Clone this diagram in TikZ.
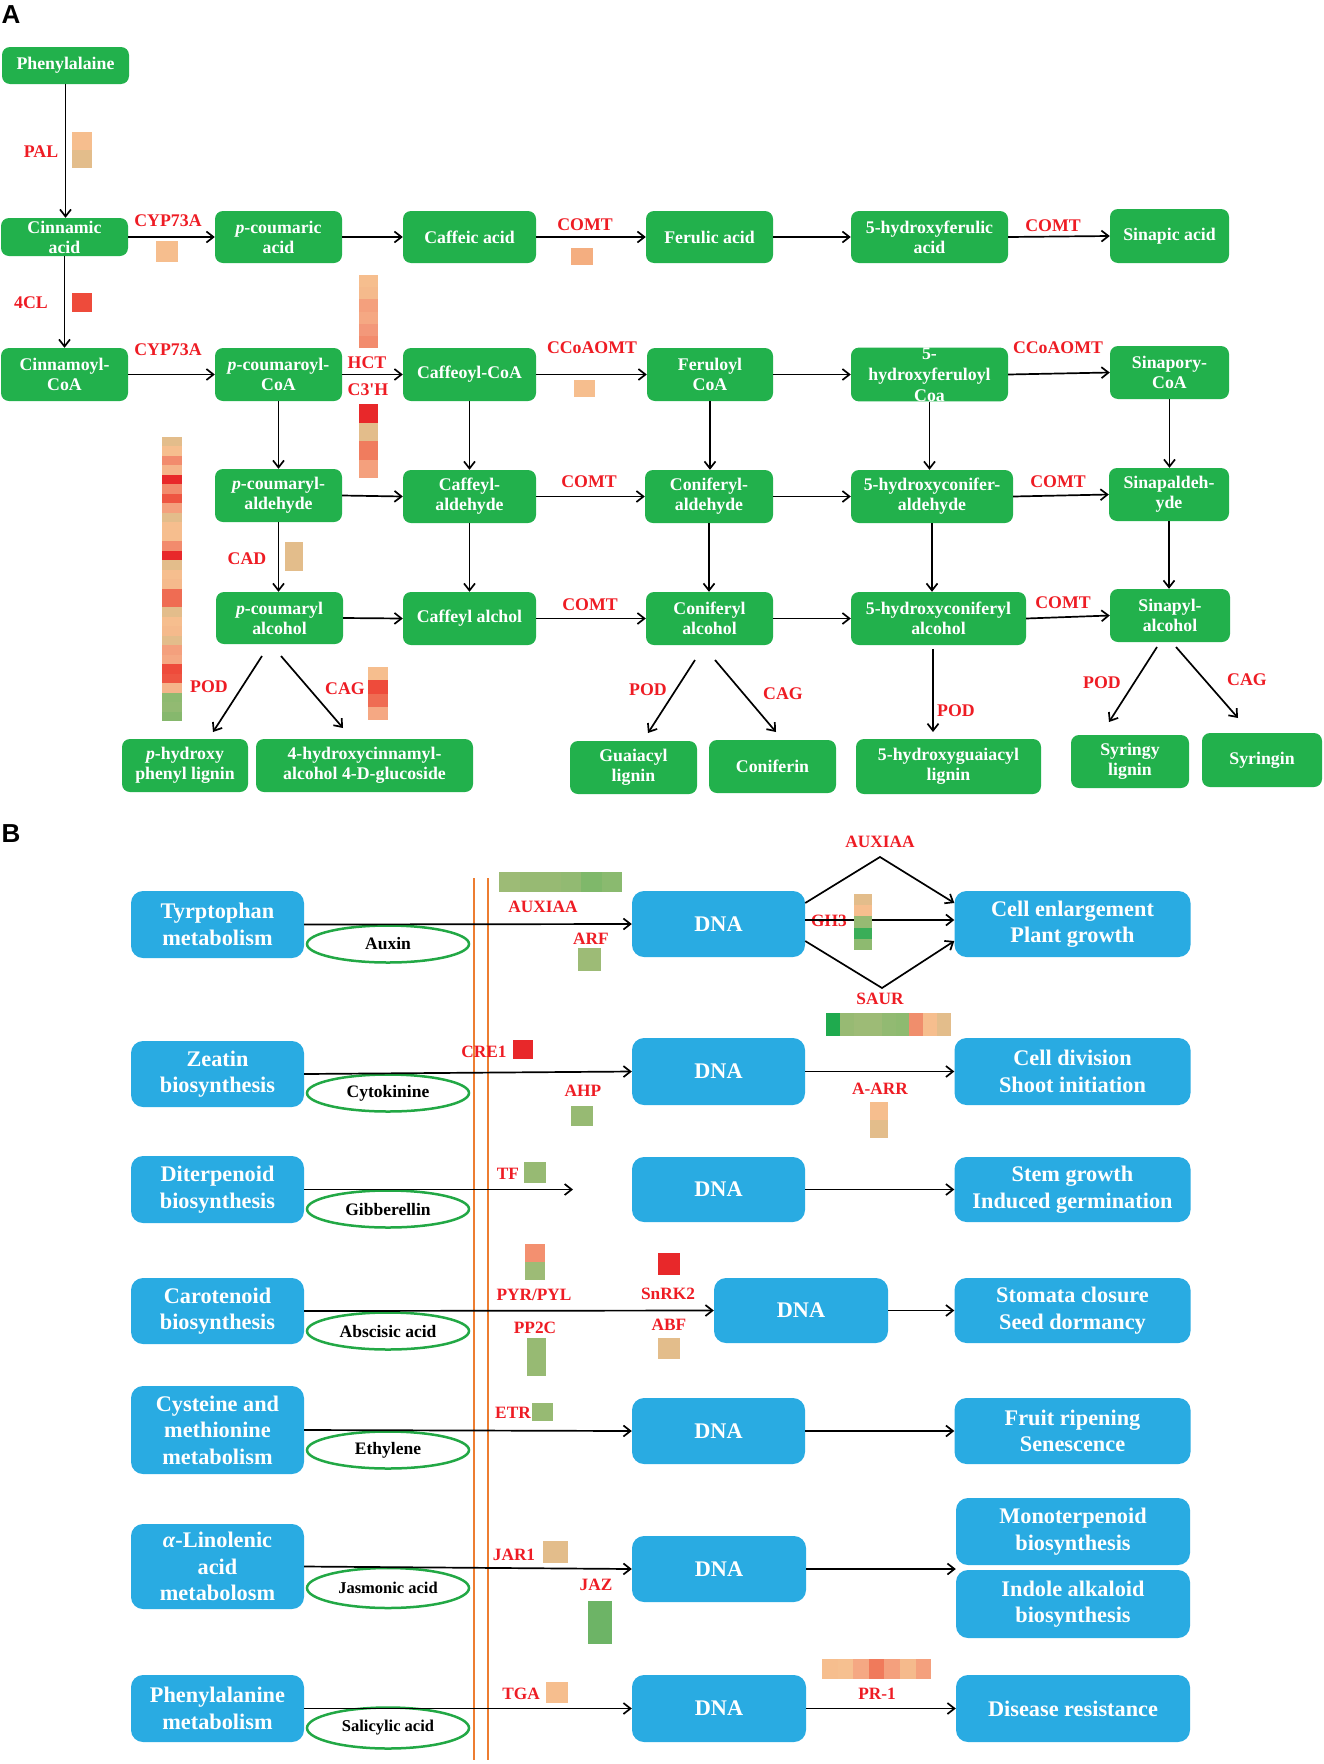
\documentclass[tikz,border=0pt]{standalone}
\usepackage{fontspec}
\setmainfont{Liberation Serif}
\newfontfamily\lsans{Liberation Sans}
\usetikzlibrary{arrows.meta,shapes.geometric}
\definecolor{boxgreen}{HTML}{22B14C}
\definecolor{boxblue}{HTML}{29ABE2}
\definecolor{labred}{HTML}{EE1C24}
\definecolor{lineorange}{HTML}{ED7D31}
\definecolor{ellgreen}{HTML}{22A845}
% heat colours
\definecolor{hLO}{HTML}{F6BE8E}
\definecolor{hLO3}{HTML}{F5BA8C}
\definecolor{hLO4}{HTML}{F6C090}
\definecolor{hLO2}{HTML}{F5B48A}
\definecolor{hTan}{HTML}{E3BD8B}
\definecolor{hSal}{HTML}{F28B6D}
\definecolor{hSal2}{HTML}{F08E6C}
\definecolor{hSal3}{HTML}{F3987A}
\definecolor{hSal4}{HTML}{F39070}
\definecolor{hSal5}{HTML}{F07A5B}
\definecolor{hRed}{HTML}{E8282A}
\definecolor{hRO}{HTML}{EE5542}
\definecolor{hRO2}{HTML}{EE4B3B}
\definecolor{hS2}{HTML}{F4A07D}
\definecolor{hS3}{HTML}{F5A883}
\definecolor{hS4}{HTML}{F4AE80}
\definecolor{hOR}{HTML}{EF6C53}
\definecolor{hOR2}{HTML}{F07C5E}
\definecolor{gr1}{HTML}{9DBB76}
\definecolor{gr2}{HTML}{97BA73}
\definecolor{gr3}{HTML}{92BA72}
\definecolor{gr4}{HTML}{7FB86A}
\definecolor{gr5}{HTML}{8ABA6F}
\definecolor{gr6}{HTML}{8EBA70}
\definecolor{gr7}{HTML}{3AAE58}
\definecolor{gr8}{HTML}{1FAA4E}
\definecolor{gr9}{HTML}{6DB466}
\definecolor{gr10}{HTML}{86B86D}
\newcommand\hv[5]{\foreach \cc [count=\ii from 0] in {#5}{\fill[\cc] (#1,{#2+\ii*#4}) rectangle ++(#3,#4);}}
\newcommand\hh[5]{\foreach \cc [count=\ii from 0] in {#5}{\fill[\cc] ({#1+\ii*#3},#2) rectangle ++(#3,#4);}}
\newcommand\gb[5]{\node[gbox,minimum width=#4pt,minimum height=#5pt] (#1) at (#2) {#3};}
\newcommand\bb[5]{\node[bbox,minimum width=#4pt,minimum height=#5pt] (#1) at (#2) {#3};}
\newcommand\lb[2]{\node[lab] at (#1) {#2};}
\newcommand\lbb[2]{\node[labb] at (#1) {#2};}
\tikzset{
 gbox/.style={rectangle, rounded corners=8pt, fill=boxgreen, text=white, align=center, inner sep=0pt, font=\fontsize{17.8}{20}\selectfont\bfseries},
 bbox/.style={rectangle, rounded corners=12pt, fill=boxblue, text=white, align=center, inner sep=0pt, font=\fontsize{22.3}{26.5}\selectfont\bfseries},
 ell/.style={ellipse, draw=ellgreen, line width=2.5pt, minimum width=162pt, minimum height=37pt, inner sep=0pt, font=\fontsize{17.5}{19}\selectfont\bfseries},
 lab/.style={text=labred, inner sep=0pt, font=\fontsize{17.8}{19}\selectfont\bfseries},
 labb/.style={text=labred, inner sep=0pt, font=\fontsize{17.3}{19}\selectfont\bfseries},
 arr/.style={draw=black, line width=1.7pt, -{Straight Barb[length=7pt,width=11pt]}},
 ln/.style={draw=black, line width=1.7pt},
 orl/.style={draw=lineorange, line width=1.8pt},
}
\begin{document}
\begin{tikzpicture}[x=1pt,y=-1pt]
\useasboundingbox (0,0) rectangle (1323,1764);
\node[font=\lsans\bfseries\fontsize{26}{28}\selectfont, inner sep=0] (lA) at (11,15) {A};
\node[font=\lsans\bfseries\fontsize{26}{28}\selectfont, inner sep=0] (lB) at (11,834) {B};
% ---------------- Part A nodes
\gb{phe}{65.5,65.5}{Phenylalaine}{127}{37}
\gb{cin}{64.5,237}{Cinnamic\\acid}{127}{38}
\gb{pca}{278.5,237}{\textit{p}-coumaric\\acid}{127}{52}
\gb{caf}{469.5,237}{Caffeic acid}{133}{52}
\gb{fer}{709.5,237}{Ferulic acid}{127}{52}
\gb{hfa}{929.5,237}{5-hydroxyferulic\\acid}{157}{52}
\gb{sin}{1169.5,236}{Sinapic acid}{119}{54}
\gb{ccoa}{64.5,374.5}{Cinnamoyl-\\CoA}{127}{53}
\gb{pccoa}{278.5,374.5}{\textit{p}-coumaroyl-\\CoA}{127}{53}
\gb{cfcoa}{469.5,374.5}{Caffeoyl-CoA}{133}{53}
\gb{frcoa}{710,374.5}{Feruloyl\\CoA}{126}{53}
\node[gbox,minimum width=157pt,minimum height=53pt,font=\fontsize{17.8}{21}\selectfont\bfseries] (hfcoa) at (929.5,374.5) {5-\\hydroxyferuloyl\\Coa};
\gb{sncoa}{1169.5,372.5}{Sinapory-\\CoA}{119}{53}
\gb{pcald}{278.5,495.5}{\textit{p}-coumaryl-\\aldehyde}{127}{53}
\gb{cfald}{469.5,496.5}{Caffeyl-\\aldehyde}{133}{53}
\gb{cnald}{709,496.5}{Coniferyl-\\aldehyde}{128}{53}
\gb{hcald}{932,496.5}{5-hydroxyconifer-\\aldehyde}{162}{53}
\gb{snald}{1169,494.5}{Sinapaldeh-\\yde}{120}{53}
\gb{pcalc}{279.5,618}{\textit{p}-coumaryl\\alcohol}{127}{52}
\gb{cfalc}{469.5,618.5}{Caffeyl alchol}{133}{53}
\gb{cnalc}{709.5,618.5}{Coniferyl\\alcohol}{127}{53}
\gb{hcalc}{938.5,618.5}{5-hydroxyconiferyl\\alcohol}{175}{53}
\gb{snalc}{1170,615.5}{Sinapyl-\\alcohol}{120}{53}
\gb{phl}{185,765.5}{\textit{p}-hydroxy\\phenyl lignin}{126}{53}
\gb{hcg}{364.5,765.5}{4-hydroxycinnamyl-\\alcohol 4-D-glucoside}{217}{53}
\gb{gul}{633.5,767.5}{Guaiacyl\\lignin}{127}{53}
\gb{cnf}{772.5,766.5}{Coniferin}{127}{53}
\gb{hgl}{948.5,766.5}{5-hydroxyguaiacyl\\lignin}{185}{55}
\gb{syl}{1130,761.5}{Syringy\\lignin}{118}{53}
\gb{syr}{1262,760}{Syringin}{120}{54}
% ---------------- Part A arrows
\draw[arr] (phe.south) -- (phe.south |- cin.north);
\draw[arr] (cin.south) -- (cin.south |- ccoa.north);
\draw[arr] (cin.east) -- (pca.west);
\draw[arr] (pca.east) -- (caf.west);
\draw[arr] (caf.east) -- (fer.west);
\draw[arr] (fer.east) -- (hfa.west);
\draw[arr] (hfa.east) -- (sin.west);
\draw[arr] (ccoa.east) -- (pccoa.west);
\draw[arr] (pccoa.east) -- (cfcoa.west);
\draw[arr] (cfcoa.east) -- (frcoa.west);
\draw[arr] (frcoa.east) -- (hfcoa.west);
\draw[arr] (hfcoa.east) -- (sncoa.west);
\draw[arr] (pccoa.south) -- (pccoa.south |- pcald.north);
\draw[arr] (cfcoa.south) -- (cfcoa.south |- cfald.north);
\draw[arr] (frcoa.south) -- (frcoa.south |- cnald.north);
\draw[arr] (hfcoa.south) -- (hfcoa.south |- hcald.north);
\draw[arr] (sncoa.south) -- (sncoa.south |- snald.north);
\draw[arr] (pcald.east) -- (cfald.west);
\draw[arr] (cfald.east) -- (cnald.west);
\draw[arr] (cnald.east) -- (hcald.west);
\draw[arr] (hcald.east) -- (snald.west);
\draw[arr] (pcald.south) -- (pcald.south |- pcalc.north);
\draw[arr] (cfald.south) -- (cfald.south |- cfalc.north);
\draw[arr] (cnald.south) -- (cnald.south |- cnalc.north);
\draw[arr] (hcald.south) -- (hcald.south |- hcalc.north);
\draw[arr] (snald.south) -- (snald.south |- snalc.north);
\draw[arr] (pcalc.east) -- (cfalc.west);
\draw[arr] (cfalc.east) -- (cnalc.west);
\draw[arr] (cnalc.east) -- (hcalc.west);
\draw[arr] (hcalc.east) -- (snalc.west);
\coordinate (d1a) at (262,656); \coordinate (d1b) at (213,732);
\coordinate (d2a) at (281,656); \coordinate (d2b) at (343,728);
\coordinate (d3a) at (695,660); \coordinate (d3b) at (648,733);
\coordinate (d4a) at (715,660); \coordinate (d4b) at (776,732);
\coordinate (d5a) at (933,649); \coordinate (d5b) at (933,732);
\coordinate (d6a) at (1157,647); \coordinate (d6b) at (1109,722);
\coordinate (d7a) at (1176,647); \coordinate (d7b) at (1238,718);
\draw[arr] (d1a) -- (d1b);
\draw[arr] (d2a) -- (d2b);
\draw[arr] (d3a) -- (d3b);
\draw[arr] (d4a) -- (d4b);
\draw[arr] (d5a) -- (d5b);
\draw[arr] (d6a) -- (d6b);
\draw[arr] (d7a) -- (d7b);
% ---------------- Part A labels
\lb{41,152}{PAL}
\lb{168,221}{CYP73A}
\lb{31,303}{4CL}
\lb{168,350}{CYP73A}
\lb{367,363}{HCT}
\lb{368,390}{C3\textquotesingle H}
\lb{585,225}{COMT}
\lb{1053,226}{COMT}
\lb{592,348}{CCoAOMT}
\lb{1058,348}{CCoAOMT}
\lb{247,559}{CAD}
\lb{589,482}{COMT}
\lb{1058,482}{COMT}
\lb{590,605}{COMT}
\lb{1063,603}{COMT}
\lb{209,687}{POD}
\lb{345,689}{CAG}
\lb{648,690}{POD}
\lb{783,694}{CAG}
\lb{956,711}{POD}
\lb{1102,683}{POD}
\lb{1247,680}{CAG}
% ---------------- Part B
\draw[orl] (474,878) -- (474,1760);
\draw[orl] (488,878) -- (488,1760);
\bb{tryp}{217.5,924.5}{Tyrptophan\\metabolism}{173}{67}
\bb{zea}{217.5,1074}{Zeatin\\biosynthesis}{173}{66}
\bb{dit}{217.5,1189.5}{Diterpenoid\\biosynthesis}{173}{67}
\bb{car}{217.5,1311}{Carotenoid\\biosynthesis}{173}{66}
\bb{cys}{217.5,1430}{Cysteine and\\methionine\\metabolism}{173}{88}
\bb{lin}{217.5,1566.5}{\textit{α}-Linolenic\\acid\\metabolosm}{173}{85}
\bb{phe2}{217.5,1708.5}{Phenylalanine\\metabolism}{173}{67}
\bb{dna1}{718.5,924}{DNA}{173}{66}
\bb{dna2}{718.5,1071.5}{DNA}{173}{67}
\bb{dna3}{718.5,1189.5}{DNA}{173}{65}
\bb{dna4}{801,1310.5}{DNA}{174}{65}
\bb{dna5}{718.5,1431}{DNA}{173}{66}
\bb{dna6}{719,1569}{DNA}{174}{66}
\bb{dna7}{719,1708.5}{DNA}{174}{67}
\bb{r1}{1072.5,924}{Cell enlargement\\Plant growth}{236}{66}
\bb{r2}{1072.5,1071.5}{Cell division\\Shoot initiation}{236}{67}
\bb{r3}{1072.5,1189.5}{Stem growth\\Induced germination}{236}{65}
\bb{r4}{1072.5,1310.5}{Stomata closure\\Seed dormancy}{236}{65}
\bb{r5}{1072.5,1431}{Fruit ripening\\Senescence}{236}{66}
\bb{r6a}{1073,1531.5}{Monoterpenoid\\biosynthesis}{234}{67}
\bb{r6b}{1073,1604}{Indole alkaloid\\biosynthesis}{234}{68}
\bb{r7}{1073,1708.5}{Disease resistance}{234}{67}
\node[ell] (aux) at (388,944) {Auxin};
\node[ell] (cyt) at (388,1093) {Cytokinine};
\node[ell] (gib) at (388,1209) {Gibberellin};
\node[ell] (aba) at (388,1331) {Abscisic acid};
\node[ell] (eth) at (388,1450) {Ethylene};
\node[ell,minimum height=40pt,font=\fontsize{16.5}{18}\selectfont\bfseries] (ja) at (388,1588) {Jasmonic acid};
\node[ell,minimum height=41pt,font=\fontsize{16.5}{18}\selectfont\bfseries] (sa) at (388,1728) {Salicylic acid};
\coordinate (tfend) at (573,1189.5);
\draw[arr] (tryp.east) -- (dna1.west);
\draw[arr] (zea.east) -- (dna2.west);
\draw[arr] (dit.east) -- (tfend);
\draw[arr] (car.east) -- (dna4.west);
\draw[arr] (cys.east) -- (dna5.west);
\draw[arr] (lin.east) -- (dna6.west);
\draw[arr] (phe2.east) -- (dna7.west);
\coordinate (apT) at (880,857);
\coordinate (apB) at (882,988);
\draw[arr] ([yshift=21pt]dna1.east) -- (apT) -- ([yshift=21pt]r1.west);
\draw[arr] ([yshift=-17pt]dna1.east) -- (apB) -- ([yshift=-17pt]r1.west);
\draw[arr] (dna2.east) -- (r2.west);
\draw[arr] (dna3.east) -- (r3.west);
\draw[arr] (dna4.east) -- (r4.west);
\draw[arr] (dna5.east) -- (r5.west);
\draw[arr] (dna6.east) -- (r6a.south west |- dna6.east);
\draw[arr] (dna7.east) -- (r7.west);
% Part B labels
\lbb{543,907}{AUXIAA}
\lbb{591,939}{ARF}
\lbb{880,842}{AUXIAA}
\lbb{829,921}{GH3}
\lbb{880,999}{SAUR}
\lbb{484,1052}{CRE1}
\lbb{583,1091}{AHP}
\lbb{880,1089}{A-ARR}
\lbb{508,1174}{TF}
\lbb{534,1295}{PYR/PYL}
\lbb{535,1328}{PP2C}
\lbb{668,1294}{SnRK2}
\lbb{669,1325}{ABF}
\lbb{513,1413}{ETR}
\lbb{514,1555}{JAR1}
\lbb{596,1585}{JAZ}
\lbb{521,1694}{TGA}
\lbb{877,1694}{PR-1}
\draw[arr] ([yshift=4pt]dna1.east) -- ([yshift=4pt]r1.west);
% ---------------- heat maps
\hv{72}{132}{20}{18}{hLO,hTan}
\hv{156}{241}{22}{21}{hLO}
\hv{72}{293}{20}{19}{hRO2}
\hv{359}{275}{19}{12.2}{hLO,hLO3,hS2,hS3,hSal3,hSal}
\hv{359}{404}{19}{18.5}{hRed,hTan,hOR2,hS2}
\hv{571}{248}{22}{17}{hS4}
\hv{574}{380}{21}{17}{hLO}
\hv{285}{542}{18}{29}{hTan}
\hv{368}{667}{20}{13.25}{hLO,hRO2,hOR,hS3}
\hv{162}{437}{20}{9.47}{hTan,hLO,hSal,hLO2,hRed,hSal,hRO,hS2,hTan,hLO,hLO,hSal,hRed,hTan,hLO,hLO3,hOR,hOR,hTan,hLO,hLO3,hTan,hS2,hS3,hRO2,hRO,hLO2,gr6,gr3,gr10}
\hh{499}{872}{20.5}{20}{gr1,gr2,gr2,gr3,gr4,gr5}
\hv{578}{948}{23}{23}{gr1}
\hv{513}{1040}{20}{19}{hRed}
\hv{571}{1106}{22}{20}{gr2}
\hv{854}{894}{18}{11.2}{hTan,hLO,gr2,gr7,gr6}
\hh{826}{1013}{13.9}{23}{gr8,gr2,gr1,gr1,gr3,gr6,hSal2,hLO,hTan}
\hv{870}{1102}{18}{18}{hLO,hTan}
\hv{524}{1162}{22}{21}{gr2}
\hv{525}{1244}{20}{18}{hSal4,gr1}
\hv{527}{1338}{19}{38}{gr2}
\hv{658}{1253}{22}{22}{hRed}
\hv{658}{1338}{22}{21}{hTan}
\hv{532}{1403}{21}{18}{gr2}
\hv{543}{1541}{25}{22}{hTan}
\hv{588}{1601}{24}{43}{gr9}
\hv{546}{1682}{22}{21}{hLO}
\hh{822}{1659}{15.6}{20}{hLO,hLO4,hS3,hSal5,hS2,hLO3,hS2}
\end{tikzpicture}
\end{document}
